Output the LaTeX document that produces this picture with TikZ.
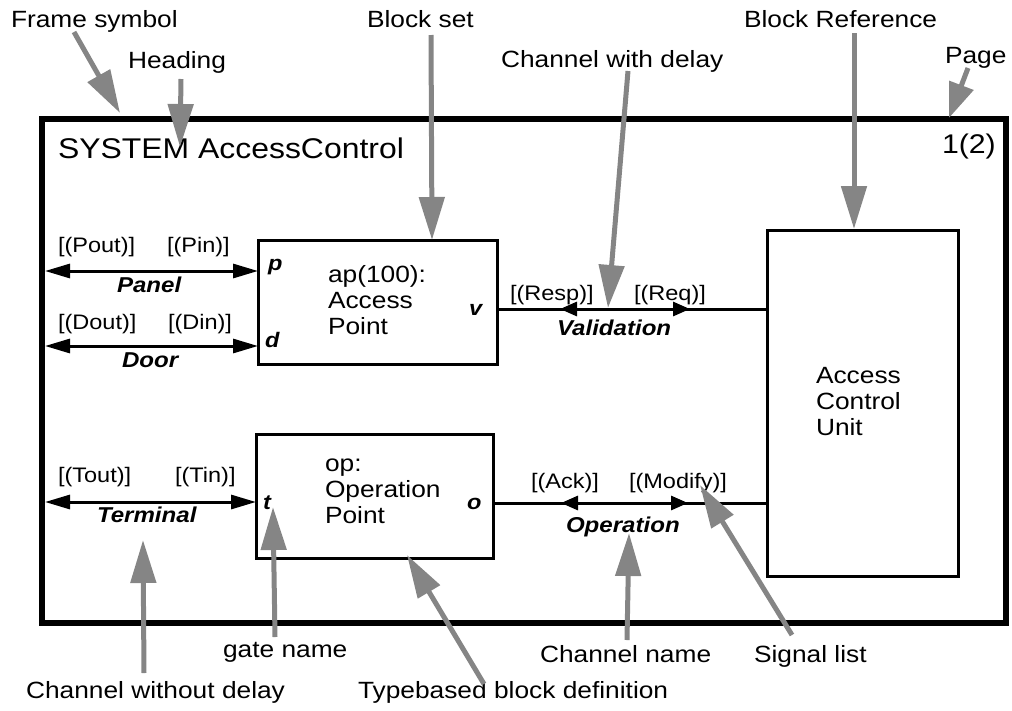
\documentclass[tikz,border=0pt]{standalone}
\usepackage{fontspec}
\setmainfont[FakeStretch=1.12]{Liberation Sans}
\usetikzlibrary{arrows.meta,decorations.markings}
\definecolor{pointergray}{RGB}{133,133,133}
\newcommand\txtsize[1]{\fontsize{#1}{#1}\selectfont}

\begin{document}
\begin{tikzpicture}[x=1pt,y=-1pt,
  every node/.style={inner sep=0pt, outer sep=0pt},
  lbl/.style={anchor=base west, font=\txtsize{23.5}},
  sig/.style={anchor=base west, font=\txtsize{21}},
  chname/.style={anchor=base west, font=\txtsize{21.5}\bfseries\itshape},
  gatename/.style={anchor=base west, font=\txtsize{21}\bfseries\itshape},
  blk/.style={draw, line width=3pt, anchor=north west},
  chan/.style={line width=3pt,
    {Triangle[length=25pt,width=14pt]}-{Triangle[length=25pt,width=14pt]}},
  dchan/.style 2 args={line width=3pt, postaction={decorate},
    decoration={markings,
      mark=at position #1 with {\arrowreversed{Triangle[length=17pt,width=14pt]}},
      mark=at position #2 with {\arrow{Triangle[length=17pt,width=14pt]}}}},
  pointer/.style={draw=pointergray, line width=5pt,
    -{Triangle[length=43pt,width=25pt]}},
]
\useasboundingbox (0,0) rectangle (1012,710);

% system frame and heading
\draw[line width=5.5pt] (42,119) rectangle (1006,623);
\node[anchor=base west, font=\txtsize{28.5}] (head) at (58,158) {SYSTEM AccessControl};
\node[anchor=base west, font=\txtsize{27}] (page) at (942,153) {1(2)};

% blocks
\node[blk, minimum width=239pt, minimum height=124pt] (ap) at (258,240) {};
\node[blk, minimum width=237pt, minimum height=124pt] (op) at (256,434) {};
\node[blk, minimum width=191pt, minimum height=346pt] (acu) at (767,230) {};

\node[lbl] (ap1) at (328,282) {ap(100):};
\node[lbl] (ap2) at (328,308) {Access};
\node[lbl] (ap3) at (328,334) {Point};
\node[lbl] (op1) at (325,471) {op:};
\node[lbl] (op2) at (325,497) {Operation};
\node[lbl] (op3) at (325,523) {Point};
\node[lbl] (acu1) at (816,383) {Access};
\node[lbl] (acu2) at (816,409) {Control};
\node[lbl] (acu3) at (816,435) {Unit};

% gates
\node[gatename] (gp) at (268,270) {p};
\node[gatename] (gd) at (265,347) {d};
\node[gatename] (gv) at (469,315) {v};
\node[gatename] (gt) at (263,509) {t};
\node[gatename] (go) at (467,509) {o};

% channel ends on the frame and channel heights
\coordinate (panelL) at (45,271);
\coordinate (doorL) at (45,346);
\coordinate (termL) at (45,502);
\coordinate (valY) at (0,309);
\coordinate (opY) at (0,503);

% channels without delay
\draw[chan] (panelL) -- (panelL -| ap.west);
\draw[chan] (doorL) -- (doorL -| ap.west);
\draw[chan] (termL) -- (termL -| op.west);

% channels with delay
\draw[dchan={63pt}{193pt}] (ap.east |- valY) -- (acu.west |- valY);
\draw[dchan={68pt}{195pt}] (op.east |- opY) -- (acu.west |- opY);

% signal lists and channel names
\node[sig] (pout) at (58,252) {[(Pout)]};
\node[sig] (pin) at (167,252) {[(Pin)]};
\node[chname] (panel) at (117,292) {Panel};
\node[sig] (dout) at (58,329) {[(Dout)]};
\node[sig] (din) at (168,329) {[(Din)]};
\node[chname] (door) at (122,367) {Door};
\node[sig] (tout) at (58,482) {[(Tout)]};
\node[sig] (tin) at (175,482) {[(Tin)]};
\node[chname] (term) at (97,522) {Terminal};
\node[sig] (resp) at (510,300) {[(Resp)]};
\node[sig] (req) at (634,300) {[(Req)]};
\node[chname] (valid) at (557,335) {Validation};
\node[sig] (ack) at (531,488) {[(Ack)]};
\node[sig] (modify) at (629,488) {[(Modify)]};
\node[chname] (oper) at (566,532) {Operation};

% annotation texts
\node[lbl] (tFrame) at (11,27) {Frame symbol};
\node[lbl] (tHeading) at (128,68) {Heading};
\node[lbl] (tBlockSet) at (367,27) {Block set};
\node[lbl] (tDelay) at (501,67) {Channel with delay};
\node[lbl] (tBlockRef) at (744,27) {Block Reference};
\node[lbl] (tPage) at (945,63) {Page};
\node[lbl] (tGate) at (223,657) {gate name};
\node[lbl] (tChName) at (540,662) {Channel name};
\node[lbl] (tSigList) at (754,662) {Signal list};
\node[lbl] (tNoDelay) at (26,698) {Channel without delay};
\node[lbl] (tType) at (358,698) {Typebased block definition};

% annotation pointers
\coordinate (aFrame) at (74,32);      \coordinate (bFrame) at (120,113);
\coordinate (aHeading) at (181,79);   \coordinate (bHeading) at (180,147);
\coordinate (aBlockSet) at (431,35);  \coordinate (bBlockSet) at (432,240);
\coordinate (aDelay) at (628,71);     \coordinate (bDelay) at (608,308);
\coordinate (aBlockRef) at (854,33);  \coordinate (bBlockRef) at (854,229);
\coordinate (aPage) at (968,68);      \coordinate (bPage) at (949,118);
\coordinate (aNoDelay) at (144,673);  \coordinate (bNoDelay) at (143,540);
\coordinate (aGate) at (275,637);     \coordinate (bGate) at (273,507);
\coordinate (aType) at (484,684);     \coordinate (bType) at (407,555);
\coordinate (aChName) at (627,640);   \coordinate (bChName) at (629,533);
\coordinate (aSigList) at (792,635);  \coordinate (bSigList) at (700,485);

\draw[pointer] (aFrame) -- (bFrame);
\draw[pointer] (aHeading) -- (bHeading);
\draw[pointer] (aBlockSet) -- (bBlockSet);
\draw[pointer] (aDelay) -- (bDelay);
\draw[pointer] (aBlockRef) -- (bBlockRef);
\draw[pointer, -{Triangle[length=35pt,width=25pt]}] (aPage) -- (bPage);
\draw[pointer] (aNoDelay) -- (bNoDelay);
\draw[pointer] (aGate) -- (bGate);
\draw[pointer] (aType) -- (bType);
\draw[pointer] (aChName) -- (bChName);
\draw[pointer] (aSigList) -- (bSigList);
\end{tikzpicture}
\end{document}
